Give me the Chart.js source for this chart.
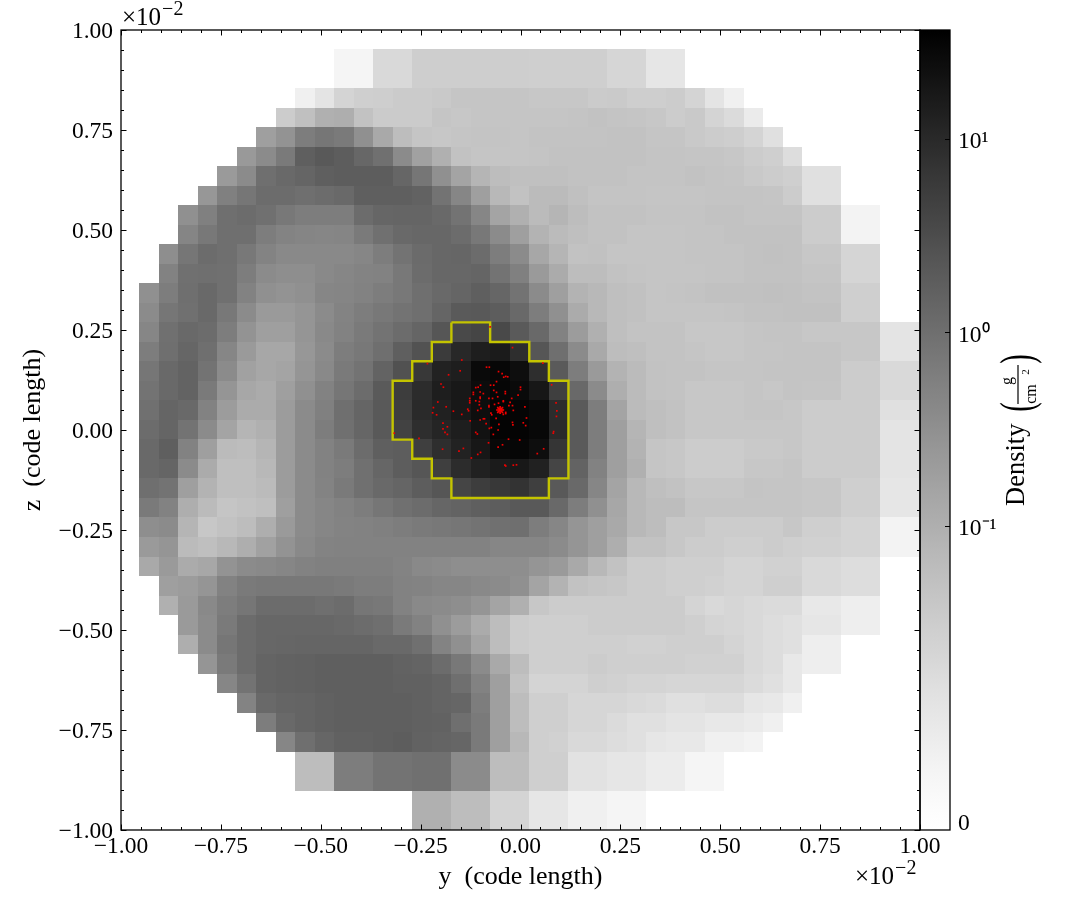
<!DOCTYPE html>
<html>
<head>
<meta charset="utf-8">
<style>
  body { margin: 0; background: #fff; }
  canvas { display: block; }
</style>
<script src="https://cdn.jsdelivr.net/npm/chart.js@4/dist/chart.umd.js"></script>
</head>
<body>
<canvas id="slice" width="1085" height="920"></canvas>
<script>
// y and z ticks, in units of 1e-2 code length
const majorTicks = [-1, -0.75, -0.5, -0.25, 0, 0.25, 0.5, 0.75, 1];
const colorbarValues = [0, 0.1, 1, 10];
const colorbarLabels = ["0", "10⁻¹", "10⁰", "10¹"];

// first filled column of each row, rows run from top to bottom
const rowStart = [10,10,8,7,6,5,4,3,2,2,1,1,0,0,0,0,0,0,0,0,0,0,0,0,0,0,0,1,1,2,2,3,4,5,6,7,8,8,14,14];

// density per cell, g/cm^2
const row00 = [.017,.017,.054,.054,.067,.067,.067,.067,.067,.067,.066,.066,.065,.065,.057,.057,.038,.038];
const row01 = [.017,.017,.054,.054,.067,.067,.067,.067,.067,.067,.066,.066,.065,.065,.057,.057,.038,.038];
const row02 = [.025,.041,.06,.066,.067,.07,.07,.072,.077,.077,.077,.077,.074,.074,.074,.07,.071,.067,.067,.069,.06,.041,.025];
const row03 = [.069,.082,.099,.105,.08,.07,.07,.07,.077,.074,.077,.077,.077,.077,.077,.078,.08,.078,.077,.074,.069,.072,.06,.051,.032];
const row04 = [.183,.28,.62,.78,.68,.31,.126,.085,.077,.074,.077,.078,.078,.077,.079,.079,.079,.079,.08,.08,.077,.077,.072,.069,.067,.06,.045];
const row05 = [.23,.37,.68,1.7,2.1,1.8,1.3,.95,.37,.17,.099,.08,.077,.077,.077,.078,.08,.08,.08,.08,.08,.078,.078,.077,.077,.074,.069,.066,.049];
const row06 = [.22,.37,1.0,1.2,1.4,1.7,1.85,1.85,1.85,1.35,.78,.31,.15,.094,.085,.082,.082,.082,.08,.08,.08,.078,.078,.078,.08,.078,.077,.072,.069,.066,.045,.045];
const row07 = [.24,.56,.78,1.1,1.1,1.0,1.1,1.2,1.7,1.7,1.7,1.55,.87,.44,.183,.091,.08,.087,.088,.082,.078,.078,.078,.077,.077,.077,.078,.078,.078,.077,.069,.045,.045];
const row08 = [.31,.56,1.0,1.1,.95,.73,.62,.62,.62,1.1,1.35,1.4,1.4,1.2,.87,.44,.15,.099,.087,.094,.085,.08,.08,.08,.078,.078,.078,.08,.08,.078,.078,.078,.069,.069,.021,.021];
const row09 = [.47,.73,1.0,1.0,.62,.49,.47,.44,.47,.68,.95,1.2,1.3,1.3,1.1,.73,.37,.183,.096,.087,.083,.08,.08,.077,.077,.077,.078,.078,.08,.08,.08,.08,.069,.069,.021,.021];
const row10 = [.34,.78,1.1,1.0,.73,.49,.4,.4,.4,.4,.44,.62,.87,1.15,1.3,1.35,1.1,.62,.37,.135,.094,.08,.081,.077,.077,.077,.077,.078,.078,.078,.08,.081,.08,.074,.074,.058,.058];
const row11 = [.52,.95,1.0,.95,.62,.37,.34,.34,.4,.44,.49,.52,.73,1.1,1.3,1.3,1.4,.87,.56,.22,.115,.085,.085,.08,.078,.077,.077,.077,.078,.078,.08,.08,.08,.077,.077,.058,.058];
const row12 = [.31,.62,1.0,1.2,.95,.52,.31,.28,.31,.44,.47,.52,.62,.73,1.0,1.2,1.4,1.7,1.35,.87,.37,.183,.096,.091,.083,.081,.077,.078,.079,.081,.081,.081,.082,.081,.079,.079,.066,.066];
const row13 = [.37,.78,.95,1.2,.73,.37,.22,.22,.26,.37,.49,.62,.73,.87,1.0,1.4,2.0,2.1,1.85,1.2,.62,.31,.115,.091,.083,.081,.077,.077,.077,.077,.078,.08,.08,.081,.081,.081,.066,.066];
const row14 = [.44,.95,1.2,1.1,.62,.28,.183,.183,.26,.4,.52,.68,.87,1.1,1.4,2.3,3.5,4.0,3.5,2.0,1.2,.52,.2,.099,.083,.079,.079,.079,.074,.074,.074,.077,.078,.078,.074,.074,.074,.074,.041,.041];
const row15 = [.62,1.0,1.35,1.0,.44,.22,.135,.135,.24,.37,.62,.73,1.0,1.7,2.6,5.6,10.5,14,15.5,8.4,2.3,1.0,.37,.126,.085,.083,.079,.079,.077,.074,.074,.077,.077,.078,.078,.078,.074,.074,.041,.041];
const row16 = [.78,1.2,1.5,.87,.37,.17,.135,.15,.26,.4,.68,.87,1.5,2.7,6.1,12.5,14,26.5,29,23.5,8.4,2.0,.62,.22,.096,.087,.08,.079,.079,.077,.077,.077,.078,.078,.078,.078,.069,.069,.054,.054];
const row17 = [.87,1.2,1.5,.68,.26,.135,.115,.183,.31,.52,.78,1.1,2.0,5.2,9.2,14,17,25,30,26.5,18,4.9,1.2,.37,.105,.087,.08,.079,.074,.074,.074,.077,.074,.078,.077,.077,.069,.069,.054,.054];
const row18 = [.95,1.4,1.2,.52,.2,.115,.115,.2,.37,.56,1.0,1.4,2.1,4.9,9.7,13,17,23.5,32,31,26.5,9.2,2.0,.62,.15,.087,.083,.08,.074,.074,.074,.077,.077,.074,.069,.069,.069,.069,.045,.045];
const row19 = [1.1,1.4,.87,.37,.15,.094,.099,.2,.37,.62,.95,1.35,2.1,4.4,8.4,11.5,14,21,32,32,28,9.7,2.0,.62,.183,.094,.083,.08,.074,.074,.074,.074,.074,.074,.069,.069,.069,.069,.041,.041];
const row20 = [1.2,1.7,.52,.183,.087,.085,.094,.2,.37,.52,.68,1.1,1.7,1.85,4.9,8.4,12.5,18,28,30,23.5,6.8,2.0,.62,.183,.096,.077,.074,.069,.069,.069,.072,.072,.074,.069,.069,.069,.069,.041,.041];
const row21 = [1.2,1.4,.37,.115,.083,.083,.091,.2,.37,.52,.62,.95,1.35,1.85,2.3,4.9,9.2,13,15.5,17,13,4.0,1.5,.52,.183,.099,.077,.074,.069,.069,.069,.074,.074,.077,.069,.069,.069,.069,.041,.041];
const row22 = [1.0,.87,.183,.096,.083,.083,.087,.2,.37,.49,.68,.95,1.2,1.4,1.85,2.3,4.0,5.2,6.1,7.2,4.9,2.1,1.2,.44,.15,.091,.083,.08,.074,.074,.074,.078,.077,.077,.074,.074,.066,.066,.038,.038];
const row23 = [.68,.52,.105,.087,.077,.08,.083,.183,.37,.44,.52,.62,.78,.95,1.1,1.35,1.5,1.7,1.85,2.1,2.1,1.2,.62,.31,.135,.091,.085,.085,.077,.077,.077,.077,.077,.077,.074,.074,.066,.066,.038,.038];
const row24 = [.34,.37,.094,.074,.08,.085,.105,.22,.37,.44,.49,.52,.56,.62,.68,.73,.78,.87,.95,1.0,.62,.44,.26,.183,.126,.091,.085,.074,.074,.069,.069,.069,.069,.074,.066,.066,.06,.06,.021,.021];
const row25 = [.22,.26,.087,.083,.091,.105,.17,.28,.4,.49,.52,.52,.52,.52,.52,.52,.52,.52,.44,.44,.44,.37,.26,.183,.105,.08,.08,.074,.069,.069,.066,.066,.069,.066,.063,.063,.06,.06,.021,.021];
const row26 = [.126,.22,.115,.135,.28,.37,.4,.44,.52,.56,.56,.56,.56,.49,.4,.37,.34,.34,.34,.34,.26,.22,.126,.091,.08,.069,.069,.066,.066,.066,.06,.06,.063,.063,.054,.054,.049,.049];
const row27 = [.183,.2,.26,.52,.68,.73,.73,.73,.73,.68,.62,.62,.52,.49,.44,.44,.4,.37,.31,.15,.096,.08,.077,.074,.069,.069,.066,.066,.063,.06,.06,.066,.066,.054,.054,.049,.049];
const row28 = [.099,.22,.4,.62,.78,1.1,1.1,1.1,1.0,1.1,.78,.73,.52,.4,.37,.34,.26,.15,.099,.074,.069,.069,.069,.069,.069,.069,.069,.06,.054,.057,.054,.051,.051,.035,.035,.028,.028];
const row29 = [.22,.37,.68,1.1,1.3,1.3,1.3,1.3,1.2,1.1,1.0,.68,.52,.31,.2,.115,.085,.069,.066,.066,.066,.069,.069,.069,.069,.069,.066,.06,.057,.054,.049,.045,.038,.038,.028,.028];
const row30 = [.105,.37,.78,1.1,1.3,1.35,1.4,1.4,1.4,1.4,1.2,1.2,.95,.49,.31,.15,.085,.069,.066,.066,.066,.066,.066,.063,.063,.066,.066,.066,.06,.054,.049,.045,.028,.028];
const row31 = [.26,.68,1.1,1.45,1.55,1.6,1.7,1.7,1.7,1.7,1.55,1.45,1.1,.73,.37,.126,.085,.066,.066,.066,.069,.066,.066,.066,.066,.063,.063,.063,.054,.049,.035,.028,.028];
const row32 = [.44,.87,1.45,1.55,1.6,1.7,1.7,1.7,1.7,1.6,1.6,1.45,1.0,.52,.183,.08,.06,.06,.06,.066,.063,.06,.06,.057,.057,.057,.057,.051,.045,.035];
const row33 = [.49,1.2,1.4,1.45,1.6,1.7,1.7,1.7,1.7,1.6,1.45,1.35,.62,.183,.085,.066,.066,.057,.057,.057,.054,.051,.045,.045,.049,.049,.038,.035,.025];
const row34 = [.62,1.2,1.45,1.6,1.7,1.7,1.7,1.7,1.6,1.55,1.0,.68,.183,.085,.066,.066,.057,.057,.051,.045,.045,.041,.041,.035,.035,.032,.025];
const row35 = [.44,1.0,1.35,1.6,1.6,1.7,1.8,1.55,1.45,1.35,.68,.183,.091,.066,.063,.054,.054,.049,.045,.038,.035,.035,.025,.025,.021];
const row36 = [.085,.085,.62,.62,.87,.87,.95,.95,.37,.37,.085,.085,.066,.066,.043,.043,.038,.038,.03,.03,.018,.018];
const row37 = [.085,.085,.62,.62,.87,.87,.95,.95,.37,.37,.085,.085,.066,.066,.043,.043,.038,.038,.03,.03,.018,.018];
const row38 = [.099,.099,.085,.085,.06,.06,.038,.038,.025,.025,.017,.017];
const row39 = [.099,.099,.085,.085,.06,.06,.038,.038,.025,.025,.017,.017];
const rows = [row00,row01,row02,row03,row04,row05,row06,row07,row08,row09,row10,row11,row12,row13,row14,row15,row16,row17,row18,row19,
  row20,row21,row22,row23,row24,row25,row26,row27,row28,row29,row30,row31,row32,row33,row34,row35,row36,row37,row38,row39];

// yellow contour, closed path
const contourY = [-.173,-.076,-.076,.022,.022,.071,.071,.120,.120,.071,.071,-.173,-.173,-.222,-.222,-.271,-.271,-.320,-.320,-.271,-.271,-.222,-.222,-.173,-.173];
const contourZ = [.269,.269,.220,.220,.172,.172,.123,.123,-.121,-.121,-.170,-.170,-.121,-.121,-.072,-.072,-.024,-.024,.123,.123,.172,.172,.220,.220,.269];

// red particles
const particleY = [-.233,-.147,-.076,-.020,.056,-.151,-.180,-.085,-.078,-.055,-.046,-.042,-.037,-.032,-.060,-.199,-.193,.078,.000,.000,-.112,-.106,-.100,-.075,-.067,-.006,-.038,-.038,-.067,-.118,-.118,-.101,-.093,-.079,-.070,-.060,-.057,-.043,-.022,-.026,-.127,-.127,-.127,-.101,-.101,-.112,-.103,-.103,-.099,-.079,-.079,-.065,-.055,-.043,-.029,-.020,-.018,.011,.089,.091,.090,-.207,-.218,-.186,-.220,-.210,-.168,-.147,-.132,-.130,-.126,-.107,-.093,-.090,-.101,-.086,-.074,-.072,-.061,-.037,-.043,-.037,.015,.007,-.020,-.019,.013,-.054,-.078,-.073,-.056,-.068,-.194,-.183,-.194,-.189,-.183,-.112,-.108,-.316,-.254,.083,.082,-.030,-.002,-.080,-.045,-.056,-.195,-.143,-.154,-.100,-.107,-.123,.058,.042,-.039,-.037,-.018,-.010,
  -.051,-.046,-.056,-.051,-.051,-.047,-.055,-.047,-.055,-.049,-.053,-.043,-.059,-.051,-.051,-.057,-.045,-.057,-.045,-.051,-.049,-.053,-.047];
const particleZ = [.166,.175,.258,.206,.167,.148,.138,.157,.157,.146,.141,.132,.134,.133,.121,.115,.107,.113,.107,.101,.106,.107,.112,.112,.112,.087,.096,.091,.099,.094,.089,.095,.091,.079,.079,.094,.083,.073,.079,.069,.079,.073,.068,.082,.079,.073,.071,.063,.054,.061,.058,.064,.067,.071,.061,.061,.049,.058,.068,.048,.034,.070,.056,.058,.043,.038,.047,.039,.052,.048,.023,.049,.028,.028,.025,.016,.042,.038,.029,.041,.039,.044,.030,.018,.019,.013,.011,.014,.004,.006,.000,-.011,.017,.008,.003,-.006,-.011,-.006,-.010,-.008,-.021,-.004,-.008,-.023,-.025,-.032,-.037,-.043,-.048,-.046,-.053,-.056,-.061,-.070,-.047,-.059,-.088,-.090,-.088,-.087,
  .050,.050,.050,.055,.045,.054,.054,.046,.046,.052,.048,.050,.050,.058,.042,.056,.056,.044,.044,.052,.048,.052,.050];

const fontName = '"Liberation Serif", "Times New Roman", serif';

// grid of the slice
const gridLeft = -0.954;
const gridTop = 0.9525;
const cellSize = 0.0488;

const cells = [];
rows.forEach((row, r) => {
  row.forEach((density, i) => {
    const c = rowStart[r] + i;
    cells.push({ x: gridLeft + (c + 0.5) * cellSize, y: gridTop - (r + 0.5) * cellSize, v: density });
  });
});

// symlog position on the colour bar, 0..1
function densityToPos(d) {
  if (d <= 0.1) return 3.8 * d;
  return Math.min(1, 0.38 + 0.242 * Math.log10(d / 0.1));
}

function posToGray(pos) {
  const g = Math.round(255 * (1 - Math.pow(pos, 1.2)));
  return `rgb(${g},${g},${g})`;
}

// minor ticks every 0.05
const minorTicks = [];
for (let i = -20; i <= 20; i++) minorTicks.push(i / 20);

function textWithPower(ctx, base, power, x, y, size) {
  ctx.textAlign = "left";
  ctx.textBaseline = "alphabetic";
  ctx.font = `${size}px ${fontName}`;
  ctx.fillText(base, x, y);
  const w = ctx.measureText(base).width;
  ctx.font = `${size * 0.8}px ${fontName}`;
  ctx.fillText(power, x + w + 1, y - 10);
}

const slicePlugin = {
  id: "slicePlugin",
  beforeDraw(chart) {
    const ctx = chart.ctx;
    ctx.save();
    ctx.fillStyle = "#fff";
    ctx.fillRect(0, 0, chart.width, chart.height);
    ctx.restore();
  },
  beforeDatasetsDraw(chart) {
    const { ctx, scales } = chart;
    ctx.save();
    cells.forEach(cell => {
      const x0 = Math.round(scales.x.getPixelForValue(cell.x - cellSize / 2));
      const x1 = Math.round(scales.x.getPixelForValue(cell.x + cellSize / 2));
      const y0 = Math.round(scales.y.getPixelForValue(cell.y + cellSize / 2));
      const y1 = Math.round(scales.y.getPixelForValue(cell.y - cellSize / 2));
      ctx.fillStyle = posToGray(densityToPos(cell.v));
      ctx.fillRect(x0, y0, x1 - x0, y1 - y0);
    });
    ctx.restore();
  },
  afterDraw(chart) {
    const { ctx, chartArea: a, scales } = chart;
    const barLeft = a.right;
    const barRight = a.right + 30;
    ctx.save();

    // colour bar
    const grad = ctx.createLinearGradient(0, a.bottom, 0, a.top);
    for (let k = 0; k <= 40; k++) grad.addColorStop(k / 40, posToGray(k / 40));
    ctx.fillStyle = grad;
    ctx.fillRect(barLeft, a.top, barRight - barLeft, a.bottom - a.top);

    ctx.strokeStyle = "#000";
    ctx.lineWidth = 1;
    const tick = (x0, y0, x1, y1) => {
      ctx.beginPath();
      ctx.moveTo(x0, y0);
      ctx.lineTo(x1, y1);
      ctx.stroke();
    };
    minorTicks.forEach(v => {
      const major = majorTicks.includes(v);
      const len = major ? 5.5 : 3;
      const px = Math.round(scales.x.getPixelForValue(v)) + 0.5;
      const py = Math.round(scales.y.getPixelForValue(v)) + 0.5;
      tick(px, a.bottom, px, a.bottom - len);
      tick(px, a.top, px, a.top + len);
      tick(a.left, py, a.left + len, py);
      tick(a.right, py, a.right - len, py);
    });
    colorbarValues.slice(1).forEach(v => {
      const py = Math.round(scales.yBar.getPixelForValue(densityToPos(v))) + 0.5;
      tick(barRight, py, barRight - 5, py);
    });

    ctx.lineWidth = 1.3;
    ctx.strokeRect(a.left, a.top, a.right - a.left, a.bottom - a.top);
    ctx.strokeRect(barLeft, a.top, barRight - barLeft, a.bottom - a.top);

    // offset text
    ctx.fillStyle = "#000";
    textWithPower(ctx, "×10", "−2", 122, 25, 25);
    textWithPower(ctx, "×10", "−2", 855, 884, 25);

    // colour bar label
    ctx.translate(1024, 506);
    ctx.rotate(-Math.PI / 2);
    ctx.textAlign = "left";
    ctx.textBaseline = "alphabetic";
    ctx.font = `26.5px ${fontName}`;
    ctx.fillText("Density", 0, 0);
    ctx.textAlign = "center";
    ctx.font = `16px ${fontName}`;
    ctx.fillText("g", 125, -12);
    ctx.fillText("cm", 112, 12);
    ctx.font = `11px ${fontName}`;
    ctx.fillText("2", 134, 5);
    ctx.lineWidth = 1.2;
    ctx.beginPath();
    ctx.moveTo(102, -6);
    ctx.lineTo(141, -6);
    ctx.stroke();
    // stretched brackets round the fraction
    ctx.font = `46px ${fontName}`;
    ctx.save();
    ctx.translate(99, 8);
    ctx.scale(0.62, 1);
    ctx.fillText("(", 0, 0);
    ctx.restore();
    ctx.save();
    ctx.translate(147, 8);
    ctx.scale(0.62, 1);
    ctx.fillText(")", 0, 0);
    ctx.restore();
    ctx.restore();
  }
};

const tickFont = { family: fontName, size: 23.5 };
const titleFont = { family: fontName, size: 26 };
const fmtTick = v => (v < 0 ? "−" : "") + Math.abs(v).toFixed(2);

const chart = new Chart(document.getElementById("slice"), {
  type: "scatter",
  data: {
    datasets: [
      {
        label: "particles",
        data: particleY.map((y, i) => ({ x: y, y: particleZ[i] })),
        pointStyle: "rect",
        pointRadius: 1.2,
        pointBackgroundColor: "#f00000",
        pointBorderWidth: 0,
        order: 1
      },
      {
        label: "contour",
        data: contourY.map((y, i) => ({ x: y, y: contourZ[i] })),
        showLine: true,
        borderColor: "#c4c400",
        borderWidth: 2.4,
        pointRadius: 0,
        order: 2
      },
      {
        label: "Density",
        data: cells,
        pointRadius: 0,
        order: 3
      }
    ]
  },
  options: {
    responsive: false,
    devicePixelRatio: 1,
    animation: false,
    events: [],
    layout: { padding: { top: 30, left: 0, right: 0, bottom: 0 } },
    plugins: { legend: { display: false }, tooltip: { enabled: false } },
    scales: {
      x: {
        type: "linear",
        min: -1,
        max: 1,
        grid: { display: false, drawTicks: false },
        border: { display: false },
        afterBuildTicks: s => { s.ticks = majorTicks.map(value => ({ value })); },
        afterFit: s => { s.height = 90; s.paddingLeft = 0; s.paddingRight = 0; },
        ticks: { color: "#000", font: tickFont, padding: 3, maxRotation: 0, autoSkip: false, callback: fmtTick },
        title: { display: true, text: "y  (code length)", color: "#000", font: titleFont, padding: { top: 0, bottom: 27 } }
      },
      y: {
        type: "linear",
        min: -1,
        max: 1,
        grid: { display: false, drawTicks: false },
        border: { display: false },
        afterBuildTicks: s => { s.ticks = majorTicks.map(value => ({ value })); },
        afterFit: s => { s.width = 121; s.paddingTop = 0; s.paddingBottom = 0; },
        ticks: { color: "#000", font: tickFont, padding: 8, labelOffset: 1.5, autoSkip: false, callback: fmtTick },
        title: { display: true, text: "z  (code length)", color: "#000", font: titleFont, padding: { top: 18, bottom: 0 } }
      },
      yBar: {
        type: "linear",
        position: "right",
        min: 0,
        max: 1,
        grid: { display: false, drawTicks: false },
        border: { display: false },
        afterBuildTicks: s => { s.ticks = colorbarValues.map(v => ({ value: v === 0 ? 0.011 : densityToPos(v) })); },
        afterFit: s => { s.width = 165; s.paddingTop = 0; s.paddingBottom = 0; },
        ticks: {
          color: "#000",
          font: tickFont,
          padding: 38,
          labelOffset: 3,
          autoSkip: false,
          callback: (v, i) => colorbarLabels[i]
        }
      }
    }
  },
  plugins: [slicePlugin]
});
</script>
</body>
</html>
